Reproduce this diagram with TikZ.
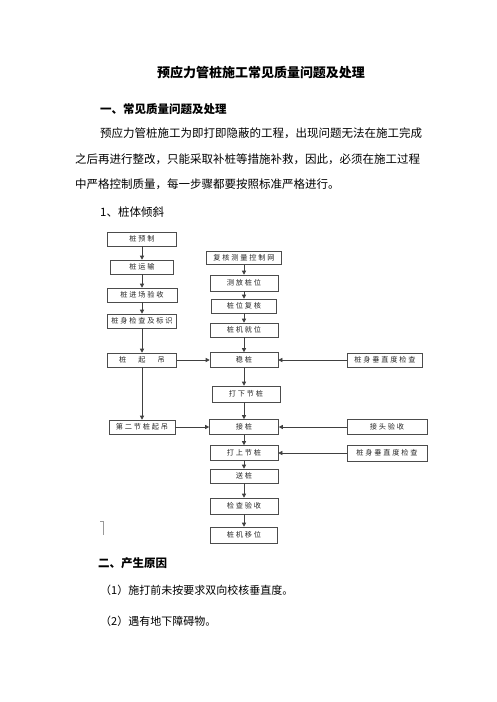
\documentclass[tikz,border=0pt]{standalone}
\usepackage{fontspec}
\usetikzlibrary{arrows.meta}
\newfontfamily\cjk{Noto Sans CJK SC}
\newfontfamily\boxfont[LetterSpace=25]{Noto Sans CJK SC}
\newcommand{\bodysize}{\fontsize{11.5}{14}\selectfont}

\tikzset{
  flowbox/.style = {draw = black!70, line width = 0.6pt, inner sep = 0pt, minimum height = 14pt, text = black!85, font = \boxfont\fontsize{7.2}{8}\selectfont},
  flowarrow/.style = {-{Triangle[length = 4pt, width = 4pt]}, line width = 0.6pt, draw = black!75},
  bodyline/.style = {anchor = west, inner sep = 0pt, text = black, font = \cjk\bodysize}
}

\begin{document}
\begin{tikzpicture}[x = 1pt, y = -1pt]
\useasboundingbox[fill = white] (0,0) rectangle (496,702);

% text above the chart
\node[inner sep = 0pt, font = \cjk\fontsize{13}{15}\selectfont\bfseries] (title) at (261,73) {预应力管桩施工常见质量问题及处理};
\node[bodyline, font = \cjk\bodysize\bfseries] (h1) at (100,109) {一、常见质量问题及处理};
\node[bodyline] (p1) at (100,133) {预应力管桩施工为即打即隐蔽的工程，出现问题无法在施工完成};
\node[bodyline] (p2) at (75,159) {之后再进行整改，只能采取补桩等措施补救，因此，必须在施工过程};
\node[bodyline] (p3) at (75,184) {中严格控制质量，每一步骤都要按照标准严格进行。};
\node[bodyline] (s1) at (100,212) {1、桩体倾斜};

% left column
\node[flowbox, minimum width = 69pt] (yz) at (142,239) {桩预制};
\node[flowbox, minimum width = 63pt] (ys) at (142,267) {桩运输};
\node[flowbox, minimum width = 70pt] (jc) at (142,295) {桩进场验收};
\node[flowbox, minimum width = 69pt] (bs) at (142,321) {桩身检查及标识};
\node[flowbox, minimum width = 69pt] (qd) at (142,360) {桩\hspace{12pt}起\hspace{12pt}吊};
\node[flowbox, minimum width = 66pt] (dqd) at (142,427) {第二节桩起吊};

% middle column
\node[flowbox, minimum width = 75pt, minimum height = 13pt] (kz) at (244,258) {复核测量控制网};
\node[flowbox, minimum width = 68pt, minimum height = 16pt] (cf) at (244,283) {测放桩位};
\node[flowbox, minimum width = 65pt] (fh) at (244,306) {桩位复核};
\node[flowbox, minimum width = 68pt] (jw) at (244,330) {桩机就位};
\node[flowbox, minimum width = 68pt, minimum height = 15pt] (wz) at (244,360) {稳桩};
\node[flowbox, minimum width = 68pt, minimum height = 16pt] (dx) at (246,394) {打下节桩};
\node[flowbox, minimum width = 69pt, minimum height = 15pt] (jz) at (244,427) {接桩};
\node[flowbox, minimum width = 68pt, minimum height = 15pt] (dsj) at (244,453) {打上节桩};
\node[flowbox, minimum width = 68pt] (sz) at (244,476) {送桩};
\node[flowbox, minimum width = 68pt, minimum height = 16pt] (ysh) at (244,506) {检查验收};
\node[flowbox, minimum width = 67pt, minimum height = 16pt] (yw) at (244,535) {桩机移位};

% right column
\node[flowbox, minimum width = 75pt] (cz1) at (385,360) {桩身垂直度检查};
\node[flowbox, minimum width = 80pt, minimum height = 15pt] (jt) at (387,427) {接头验收};
\node[flowbox, minimum width = 80pt, minimum height = 16pt] (cz2) at (387,453) {桩身垂直度检查};

% arrows
\draw[flowarrow] (yz) -- (ys);
\draw[flowarrow] (ys) -- (jc);
\draw[flowarrow] (jc) -- (bs);
\draw[flowarrow] (bs) -- (qd);
\draw[flowarrow] (qd) -- (dqd);
\draw[flowarrow] (kz) -- (cf);
\draw[flowarrow] (cf) -- (fh);
\draw[flowarrow] (fh) -- (jw);
\draw[flowarrow] (jw) -- (wz);
\draw[flowarrow] (wz.south) -- (wz.south |- dx.north);
\draw[flowarrow] (dx.south -| jz.north) -- (jz.north);
\draw[flowarrow] (jz) -- (dsj);
\draw[flowarrow] (dsj) -- (sz);
\draw[flowarrow] (sz) -- (ysh);
\draw[flowarrow] (ysh) -- (yw);
\draw[flowarrow] (qd) -- (wz);
\draw[flowarrow] (dqd) -- (jz);
\draw[flowarrow] (cz1) -- (wz);
\draw[flowarrow] (jt) -- (jz);
\draw[flowarrow] (cz2) -- (dsj);
\draw[black!40, line width = 0.6pt] (100,521) -- (103,521) -- (103,535);

% text below the chart
\node[bodyline, font = \cjk\bodysize\bfseries] (h2) at (98,563) {二、产生原因};
\node[bodyline, font = \cjk\fontsize{11}{14}\selectfont] (r1) at (100,590) {（1）施打前未按要求双向校核垂直度。};
\node[bodyline, font = \cjk\fontsize{11}{14}\selectfont] (r2) at (100,621) {（2）遇有地下障碍物。};
\end{tikzpicture}
\end{document}
